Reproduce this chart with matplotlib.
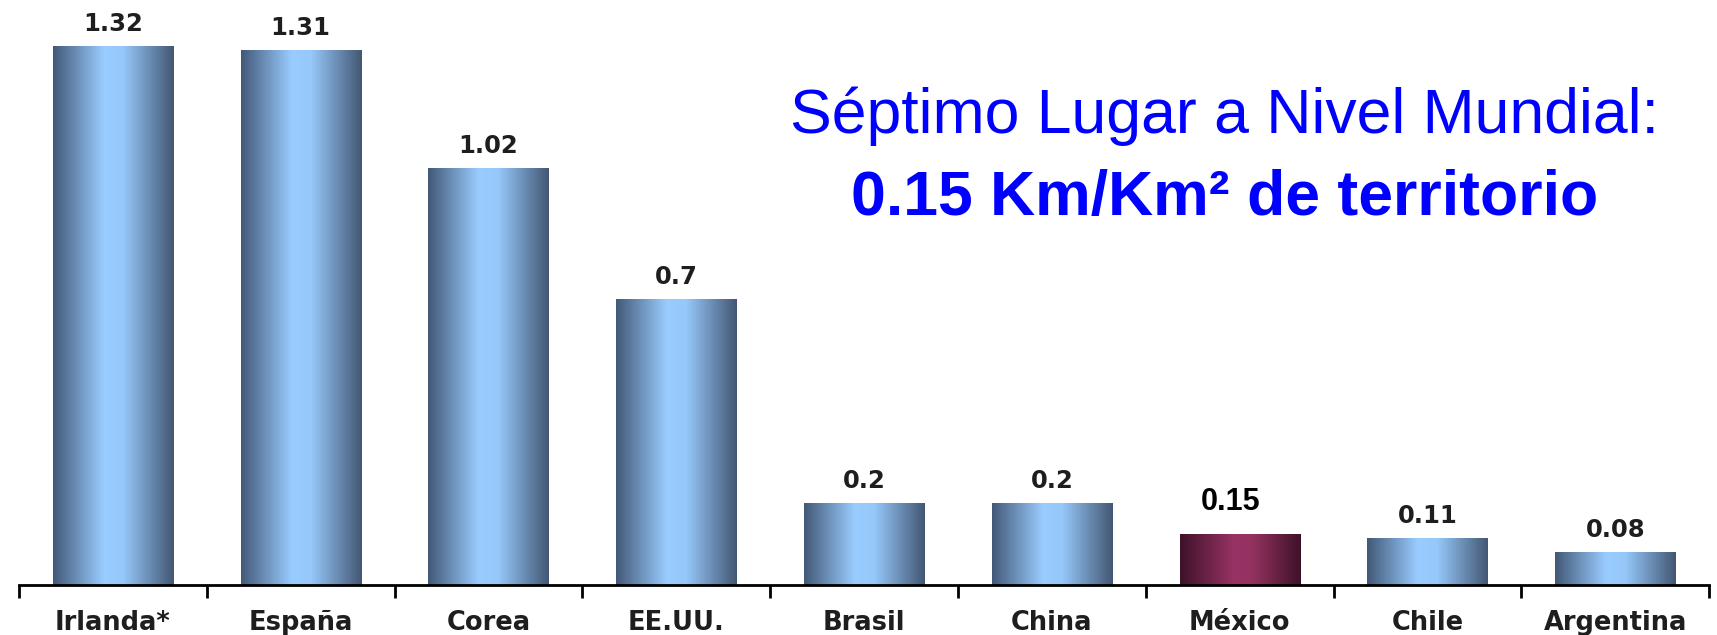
import numpy as np
import matplotlib
matplotlib.use('Agg')
import matplotlib.pyplot as plt
from matplotlib.colors import LinearSegmentedColormap

# datos del grafico
paises = ['Irlanda*', 'España', 'Corea', 'EE.UU.', 'Brasil', 'China', 'México', 'Chile', 'Argentina']
alturas = [1.32, 1.31, 1.02, 0.70, 0.20, 0.20, 0.125, 0.115, 0.08]
etiquetas = ['1.32', '1.31', '1.02', '0.7', '0.2', '0.2', '0.15', '0.11', '0.08']
destacado = 'México'

fig = plt.figure(figsize=(17.17, 6.35), dpi=100)
ax = fig.add_axes([0.011, 0.078, 0.9845, 0.922])

azul = LinearSegmentedColormap.from_list(
    'azul', [(0, '#435978'), (0.42, '#99ccff'), (0.58, '#96c8fa'), (1, '#435773')])
vino = LinearSegmentedColormap.from_list(
    'vino', [(0, '#3e1228'), (0.45, '#993366'), (0.6, '#94325f'), (1, '#3e1228')])

grad = np.linspace(0, 1, 256).reshape(1, -1)
ancho = 0.64

for i, (p, h, t) in enumerate(zip(paises, alturas, etiquetas)):
    cmap = vino if p == destacado else azul
    ax.imshow(grad, cmap=cmap, aspect='auto', interpolation='bicubic',
              extent=(i - ancho / 2, i + ancho / 2, 0, h), zorder=2)
    if p == destacado:
        ax.text(i - 0.05, h + 0.043, t, ha='center', va='bottom', fontsize=22,
                fontweight='bold', family='Liberation Sans', color='black')
    else:
        ax.text(i, h + 0.027, t, ha='center', va='bottom', fontsize=17.5,
                fontweight='bold', family='DejaVu Sans', color='#1e1e1e')

ax.set_xlim(-0.5, len(paises) - 0.5)
ax.set_ylim(0, 1.435)

for s in ['top', 'right', 'left']:
    ax.spines[s].set_visible(False)
ax.spines['bottom'].set_linewidth(2)
ax.set_yticks([])

ax.set_xticks(np.arange(-0.5, len(paises), 1))
ax.set_xticklabels([])
ax.set_xticks(np.arange(len(paises)), minor=True)
ax.set_xticklabels(paises, minor=True, fontsize=18.5, fontweight='bold',
                   family='DejaVu Sans', color='#1e1e1e')
ax.tick_params(axis='x', which='major', direction='out', length=9, width=2)
ax.tick_params(axis='x', which='minor', length=0, pad=18)

fig.text(0.713, 0.817, 'Séptimo Lugar a Nivel Mundial:', ha='center', va='center',
         fontsize=45, color='#0000ff', family='Liberation Sans')
fig.text(0.713, 0.688, '0.15 Km/Km² de territorio', ha='center', va='center',
         fontsize=45, color='#0000ff', family='Liberation Sans', fontweight='bold')

plt.savefig('out.png', dpi=100)
